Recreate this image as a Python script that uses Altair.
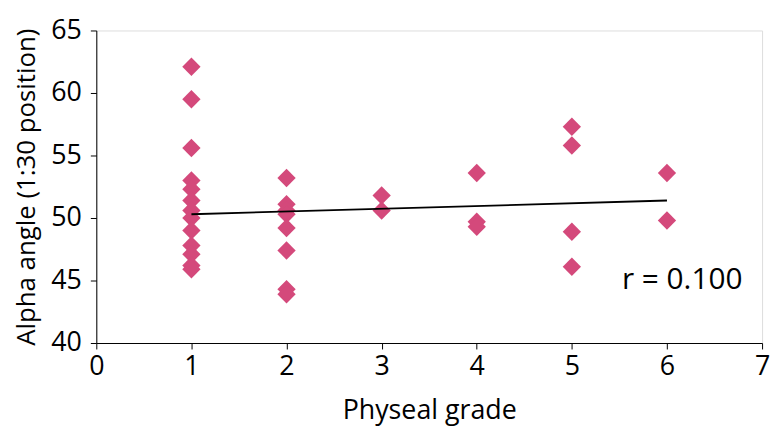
import altair as alt
import pandas as pd

grade_1 = [62.1, 59.5, 55.6, 53.0, 52.3, 51.4, 50.6, 50.0, 49.0, 47.8, 47.1, 46.2, 45.9]
grade_2 = [53.2, 51.1, 50.6, 50.3, 49.2, 47.4, 44.3, 43.9]
grade_3 = [51.8, 50.6]
grade_4 = [53.6, 49.7, 49.3]
grade_5 = [57.3, 55.8, 48.9, 46.1]
grade_6 = [53.6, 49.8]

trend_x = [1, 6]
trend_y = [50.3, 51.4]

label_text = ["r = 0.100"]
label_x = [6.16]
label_y = [45.0]

x_ticks = [0, 1, 2, 3, 4, 5, 6, 7]
y_ticks = [40, 45, 50, 55, 60, 65]

rows = []
for g, vals in enumerate([grade_1, grade_2, grade_3, grade_4, grade_5, grade_6], start=1):
    for v in vals:
        rows.append({"grade": g, "alpha": v})
pts = pd.DataFrame(rows)
trend = pd.DataFrame({"grade": trend_x, "alpha": trend_y})
lab = pd.DataFrame({"grade": label_x, "alpha": label_y, "t": label_text})

FONT = "Open Sans"

xs = alt.Scale(domain=[0, 7], nice=False, zero=False)
ys = alt.Scale(domain=[40, 65], nice=False, zero=False)

xax = alt.Axis(values=x_ticks, format="d", title="Physeal grade", grid=False, domainColor="black",
               tickColor="black", tickSize=6, labelFontSize=27, titleFontSize=27,
               labelFont=FONT, titleFont=FONT, labelColor="black", titleColor="black",
               titleFontWeight="normal", labelPadding=5, titlePadding=18, labelFlush=False)
yax = alt.Axis(values=y_ticks, title="Alpha angle (1:30 position)", grid=False, domainColor="black",
               tickColor="black", tickSize=6, labelFontSize=27, titleFontSize=26,
               labelFont=FONT, titleFont=FONT, labelColor="black", titleColor="black",
               titleFontWeight="normal", labelPadding=9, titlePadding=11, labelFlush=False)

points = alt.Chart(pts).mark_point(shape="diamond", filled=True, size=340, opacity=1,
                                   color="#D4497B").encode(
    x=alt.X("grade:Q", scale=xs, axis=xax),
    y=alt.Y("alpha:Q", scale=ys, axis=yax),
)

line = alt.Chart(trend).mark_line(color="black", strokeWidth=1.8).encode(
    x=alt.X("grade:Q", scale=xs),
    y=alt.Y("alpha:Q", scale=ys),
)

text = alt.Chart(lab).mark_text(font=FONT, fontSize=30, color="black").encode(
    x=alt.X("grade:Q", scale=xs),
    y=alt.Y("alpha:Q", scale=ys),
    text="t:N",
)

chart = alt.layer(points, line, text).properties(
    width=671, height=315,
    autosize=alt.AutoSizeParams(type="none"),
    padding={"left": 89, "top": 21, "right": 10, "bottom": 84},
).configure_view(stroke=None).configure(background="white")

chart.save("out.html", embed_options={"renderer": "svg", "actions": False})
